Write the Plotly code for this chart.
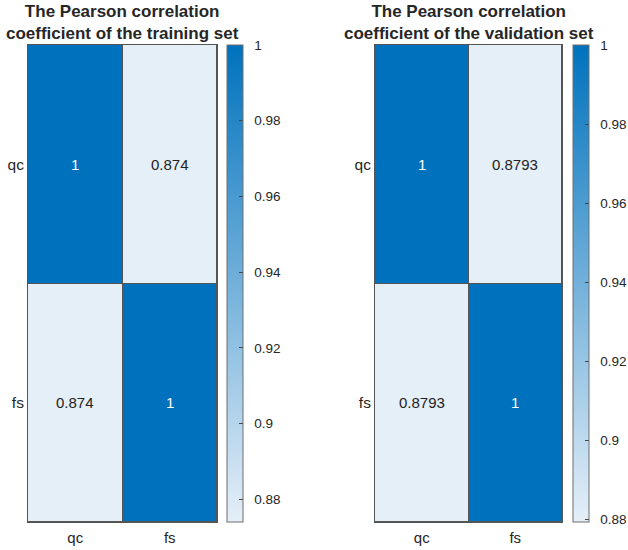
import plotly.graph_objects as go

# data
labels = ["qc", "fs"]
train_corr = [[1, 0.874], [0.874, 1]]
valid_corr = [[1, 0.8793], [0.8793, 1]]
train_text = [["1", "0.874"], ["0.874", "1"]]
valid_text = [["1", "0.8793"], ["0.8793", "1"]]
titles = ["The Pearson correlation<br>coefficient of the training set",
          "The Pearson correlation<br>coefficient of the validation set"]
cb_tickvals = [0.88, 0.9, 0.92, 0.94, 0.96, 0.98, 1]
cb_ticktext = ["0.88", "0.9", "0.92", "0.94", "0.96", "0.98", "1"]

W, H = 628, 550
blues = [[0, "rgb(229,239,248)"], [1, "rgb(0,114,189)"]]
FONT = "Liberation Sans, Arial, sans-serif"

fig = go.Figure()

panels = [
    # heatmap x0, x1 (px), colorbar x (px)
    (train_corr, train_text, titles[0], 28, 217, 227, "x", "y"),
    (valid_corr, valid_text, titles[1], 375, 562, 573, "x2", "y2"),
]
top_px, bot_px = 45, 522

for i, (z, txt, title, x0, x1, cbx, xa, ya) in enumerate(panels):
    zmin = min(min(r) for r in z)
    fig.add_trace(go.Heatmap(
        z=z, x=labels, y=labels, xaxis=xa, yaxis=ya,
        colorscale=blues, zmin=zmin, zmax=1,
        xgap=1, ygap=1, hoverinfo="skip",
        colorbar=dict(
            x=cbx / W, xanchor="left", xref="paper",
            y=1 - bot_px / H, yanchor="bottom",
            len=(bot_px - top_px) / H, lenmode="fraction",
            thickness=16, thicknessmode="pixels",
            outlinecolor="#6e6e6e", outlinewidth=1,
            tickvals=cb_tickvals,
            ticktext=["&nbsp;&nbsp;" + t for t in cb_ticktext],
            ticks="inside", ticklen=4, tickcolor="#444",
            tickfont=dict(family=FONT, size=13.5, color="#262626"),
            xpad=0, ypad=0,
        ),
    ))
    sfx = "" if i == 0 else "2"
    fig.update_layout(**{
        "xaxis" + sfx: dict(domain=[x0 / W, x1 / W], anchor=ya,
                            showline=True, mirror=True, linecolor="#555", linewidth=1,
                            ticks="", showgrid=False, zeroline=False,
                            ticklabelstandoff=2,
                            tickfont=dict(family=FONT, size=15, color="#262626")),
        "yaxis" + sfx: dict(domain=[1 - bot_px / H, 1 - top_px / H], anchor=xa,
                            autorange="reversed",
                            showline=True, mirror=True, linecolor="#555", linewidth=1,
                            ticks="", showgrid=False, zeroline=False,
                            ticklabelstandoff=0,
                            tickfont=dict(family=FONT, size=15.5, color="#262626")),
    })
    for r in range(2):
        for c in range(2):
            fig.add_annotation(
                x=labels[c], y=labels[r], xref=xa, yref=ya, text=txt[r][c],
                showarrow=False,
                font=dict(family=FONT, size=15,
                          color="white" if z[r][c] > (zmin + 1) / 2 else "#222"),
            )
    fig.add_annotation(
        x=(x0 + x1) / 2 / W, y=1, xref="paper", yref="paper",
        xanchor="center", yanchor="top", text="<b>" + title + "</b>",
        showarrow=False, align="center",
        font=dict(family=FONT, size=17, color="#262626"),
    )

fig.update_layout(
    width=W, height=H,
    margin=dict(l=0, r=0, t=0, b=0, autoexpand=False),
    paper_bgcolor="white", plot_bgcolor="#555",
    showlegend=False,
)

# drop the page's default body margin so the figure sits at the window corner
fig.write_html("out.html", config={"displayModeBar": False},
               post_script="document.body.style.margin='0';")
